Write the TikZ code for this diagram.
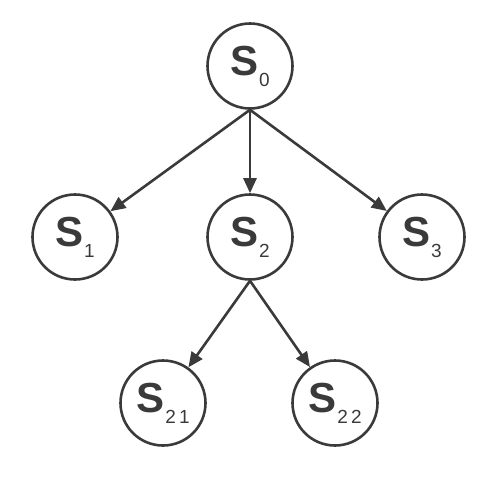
\documentclass[tikz,border=0pt]{standalone}
\usepackage{fontspec}
\setmainfont{Liberation Sans}
\usetikzlibrary{arrows.meta}
\definecolor{linecol}{HTML}{3A3A3A}
\tikzset{
  state/.style={circle, draw=linecol, line width=2.6pt, minimum size=85pt, inner sep=0pt, text=linecol},
  edge/.style={draw=linecol, line width=2.6pt, -{Triangle[length=15pt,width=13pt]}}
}
\newcommand\stlab[1]{\raisebox{4pt}{{\fontsize{42}{42}\selectfont\bfseries S}\kern1pt\raisebox{-11pt}{\fontsize{19}{19}\selectfont #1}}}
\begin{document}
\begin{tikzpicture}[x=1pt,y=-1pt]
\useasboundingbox (0,0) rectangle (498,498);
\node[state] (s0) at (250,66) {\stlab{0}};
\node[state] (s1) at (75,237) {\stlab{1}};
\node[state] (s2) at (250,237) {\stlab{2}};
\node[state] (s3) at (422,237) {\stlab{3}};
\node[state] (s21) at (163,403) {\stlab{2\,1}};
\node[state] (s22) at (335,403) {\stlab{2\,2}};
\draw[edge] (s0.south) -- (s1);
\draw[edge] (s0.south) -- (s2);
\draw[edge] (s0.south) -- (s3);
\draw[edge] (s2.south) -- (s21);
\draw[edge] (s2.south) -- (s22);
\end{tikzpicture}
\end{document}
